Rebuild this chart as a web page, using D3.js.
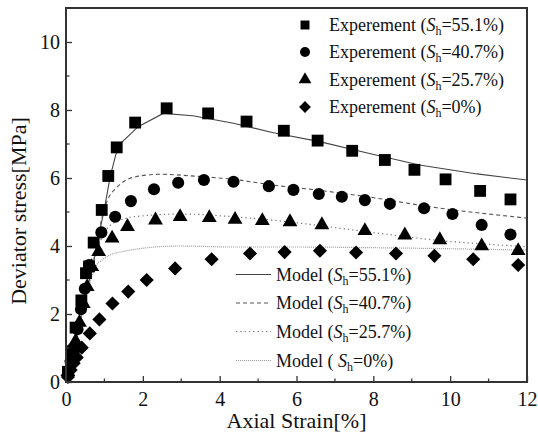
<!DOCTYPE html>
<html><head><meta charset="utf-8">
<script src="https://cdn.jsdelivr.net/npm/d3@7"></script>
<style>body{margin:0;background:#fff}svg{display:block}</style>
</head><body><svg id="c" width="538" height="443"></svg>
<script>
const xTicks=[0,2,4,6,8,10,12];
const yTicks=[0,2,4,6,8,10];
const seriesLabels=["55.1%","40.7%","25.7%","0%"];
const expSquare=[[0.05,0.3],[0.15,0.9],[0.25,1.6],[0.4,2.4],[0.52,3.2],[0.6,3.4],[0.72,4.1],[0.93,5.06],[1.1,6.06],[1.32,6.9],[1.8,7.63],[2.62,8.05],[3.7,7.9],[4.7,7.66],[5.67,7.39],[6.55,7.1],[7.45,6.8],[8.3,6.53],[9.07,6.24],[9.88,5.96],[10.78,5.62],[11.57,5.37]];
const expCircle=[[0.05,0.3],[0.12,0.6],[0.22,0.95],[0.3,1.55],[0.39,2.14],[0.49,2.74],[0.6,3.44],[0.92,4.4],[1.28,4.86],[1.69,5.32],[2.29,5.67],[2.92,5.86],[3.59,5.94],[4.36,5.89],[5.28,5.76],[5.92,5.65],[6.58,5.53],[7.18,5.45],[7.78,5.35],[8.43,5.24],[9.32,5.11],[10.06,4.94],[10.82,4.62],[11.57,4.34]];
const expTriangle=[[0.05,0.3],[0.15,0.75],[0.25,1.2],[0.35,1.75],[0.45,2.3],[0.55,2.8],[0.67,3.39],[0.85,3.83],[1.2,4.23],[1.6,4.57],[2.33,4.76],[2.97,4.86],[3.73,4.83],[4.4,4.78],[5.11,4.74],[5.83,4.71],[6.66,4.62],[7.78,4.45],[8.82,4.32],[9.73,4.18],[10.82,4.0],[11.77,3.86]];
const expDiamond=[[0.05,0.15],[0.12,0.35],[0.2,0.55],[0.28,0.72],[0.17,1.01],[0.41,1.01],[0.62,1.43],[0.87,1.84],[1.21,2.31],[1.62,2.66],[2.1,3.0],[2.84,3.34],[3.79,3.61],[4.79,3.78],[5.69,3.82],[6.61,3.86],[7.55,3.81],[8.59,3.78],[9.59,3.71],[10.6,3.61],[11.77,3.44]];
const model551=[[0,0],[0.2,0.85],[0.36,1.73],[0.54,2.71],[0.71,3.49],[0.88,4.45],[1.0,5.1],[1.15,6.04],[1.3,6.7],[1.45,7.05],[1.88,7.51],[2.53,7.9],[3.3,7.83],[4.36,7.61],[5.4,7.33],[6.6,7.07],[7.9,6.72],[9.2,6.38],[10.7,6.12],[12,5.94]];
const model407=[[0,0],[0.2,0.85],[0.36,1.7],[0.54,2.65],[0.7,3.45],[0.85,4.35],[0.97,5.0],[1.1,5.4],[1.32,5.72],[1.75,6.02],[2.45,6.11],[3.4,6.05],[4.36,5.96],[5.4,5.79],[6.5,5.65],[7.83,5.45],[9.56,5.14],[12,4.82]];
const model257=[[0,0],[0.2,0.85],[0.36,1.7],[0.54,2.6],[0.7,3.4],[0.85,4.0],[1.06,4.5],[1.41,4.76],[1.93,4.88],[3.05,4.94],[4.36,4.86],[6.1,4.67],[7.83,4.42],[9.56,4.18],[12,3.98]];
const model0=[[0,0],[0.2,0.85],[0.36,1.7],[0.54,2.6],[0.67,3.1],[0.8,3.45],[0.93,3.58],[1.15,3.74],[1.45,3.83],[1.97,3.93],[2.97,4.0],[4.36,3.97],[6.1,3.97],[8,3.95],[10,3.92],[12,3.88]];

const FONT="'Liberation Serif','Times New Roman','DejaVu Serif',serif";
const svg=d3.select("#c").attr("font-family",FONT);
const L=66,R=527,T=8,B=382;
const x=d3.scaleLinear().domain([0,12]).range([L,R]);
const y=d3.scaleLinear().domain([0,11]).range([B,T]);
const axisCol="#333";

const lineLin=d3.line().x(d=>x(d[0])).y(d=>y(d[1]));
const lineSm=d3.line().x(d=>x(d[0])).y(d=>y(d[1])).curve(d3.curveMonotoneX);
const models=[
 {data:model551,stroke:"#444",dash:null,w:1.1,gen:lineLin},
 {data:model407,stroke:"#555",dash:"4,3",w:1.1,gen:lineSm},
 {data:model257,stroke:"#777",dash:"1.3,3",w:1.2,gen:lineSm},
 {data:model0,stroke:"#999",dash:"1,1",w:1.2,gen:lineSm}
];
const g=svg.append("g");
models.forEach(m=>{
 g.append("path").attr("d",m.gen(m.data)).attr("fill","none").attr("stroke",m.stroke)
  .attr("stroke-width",m.w).attr("stroke-dasharray",m.dash);
});

const diamondType={draw(ctx,size){const r=Math.sqrt(size/2);ctx.moveTo(0,-r);ctx.lineTo(r,0);ctx.lineTo(0,r);ctx.lineTo(-r,0);ctx.closePath();}};
const exps=[
 {data:expSquare,type:d3.symbolSquare,size:140,lsize:80},
 {data:expCircle,type:d3.symbolCircle,size:115,lsize:78},
 {data:expTriangle,type:d3.symbolTriangle,size:95,lsize:70},
 {data:expDiamond,type:diamondType,size:100,lsize:70}
];
exps.forEach(e=>{
 g.selectAll(null).data(e.data).enter().append("path")
  .attr("d",d3.symbol().type(e.type).size(e.size))
  .attr("transform",d=>`translate(${x(d[0])},${y(d[1])})`)
  .attr("fill","#000");
});

const xa=svg.append("g").attr("transform",`translate(0,${B})`)
 .call(d3.axisBottom(x).tickValues(xTicks).tickSize(-6).tickPadding(10).tickFormat(d3.format("d")));
const ya=svg.append("g").attr("transform",`translate(${L},0)`)
 .call(d3.axisLeft(y).tickValues(yTicks).tickSize(-6).tickPadding(6).tickFormat(d3.format("d")));
[xa,ya].forEach(a=>{
 a.attr("font-family",FONT).attr("font-size",20);
 a.select(".domain").remove();
 a.selectAll("line").attr("stroke",axisCol).attr("stroke-width",1.3);
 a.selectAll("text").attr("fill","#111");
});
xa.selectAll("text").attr("dy","0.71em");
svg.append("g").selectAll(null).data([1,3,5,7,9,11]).enter().append("line")
 .attr("x1",d=>x(d)).attr("x2",d=>x(d)).attr("y1",B).attr("y2",B-3.5).attr("stroke",axisCol).attr("stroke-width",1.3);
svg.append("g").selectAll(null).data([1,3,5,7,9]).enter().append("line")
 .attr("y1",d=>y(d)).attr("y2",d=>y(d)).attr("x1",L).attr("x2",L+3.5).attr("stroke",axisCol).attr("stroke-width",1.3);
svg.append("rect").attr("x",L).attr("y",T).attr("width",R-L).attr("height",B-T)
 .attr("fill","none").attr("stroke",axisCol).attr("stroke-width",2);

svg.append("text").attr("x",(L+R)/2).attr("y",428).attr("text-anchor","middle")
 .attr("font-family",FONT).attr("font-size",22).attr("fill","#111").text("Axial Strain[%]");
svg.append("text").attr("transform","translate(26,211) rotate(-90)").attr("text-anchor","middle")
 .attr("font-family",FONT).attr("font-size",22).attr("fill","#111").text("Deviator stress[MPa]");

function labelText(sel,prefix,val){
 sel.append("tspan").text(prefix);
 sel.append("tspan").attr("font-style","italic").text("S");
 sel.append("tspan").attr("dy",4).attr("font-size",12).text("h");
 sel.append("tspan").attr("dy",-4).text("="+val+")");
}
const lg=svg.append("g");
const expY=[25,52,79.5,107];
exps.forEach((e,i)=>{
 lg.append("path").attr("d",d3.symbol().type(e.type).size(e.lsize))
  .attr("transform",`translate(305,${expY[i]})`).attr("fill","#000");
 const t=lg.append("text").attr("x",329).attr("y",expY[i]+6).attr("font-family",FONT).attr("font-size",18).attr("fill","#111");
 labelText(t,"Experement (",seriesLabels[i]);
});
const modY=[274.5,303,331.5,360.5];
models.forEach((m,i)=>{
 lg.append("line").attr("x1",236).attr("x2",271).attr("y1",modY[i]).attr("y2",modY[i])
  .attr("stroke",m.stroke).attr("stroke-width",m.w).attr("stroke-dasharray",m.dash);
 const t=lg.append("text").attr("x",276).attr("y",modY[i]+6).attr("font-family",FONT).attr("font-size",18).attr("fill","#111");
 labelText(t,i===3?"Model ( ":"Model (",seriesLabels[i]);
});
</script></body></html>
